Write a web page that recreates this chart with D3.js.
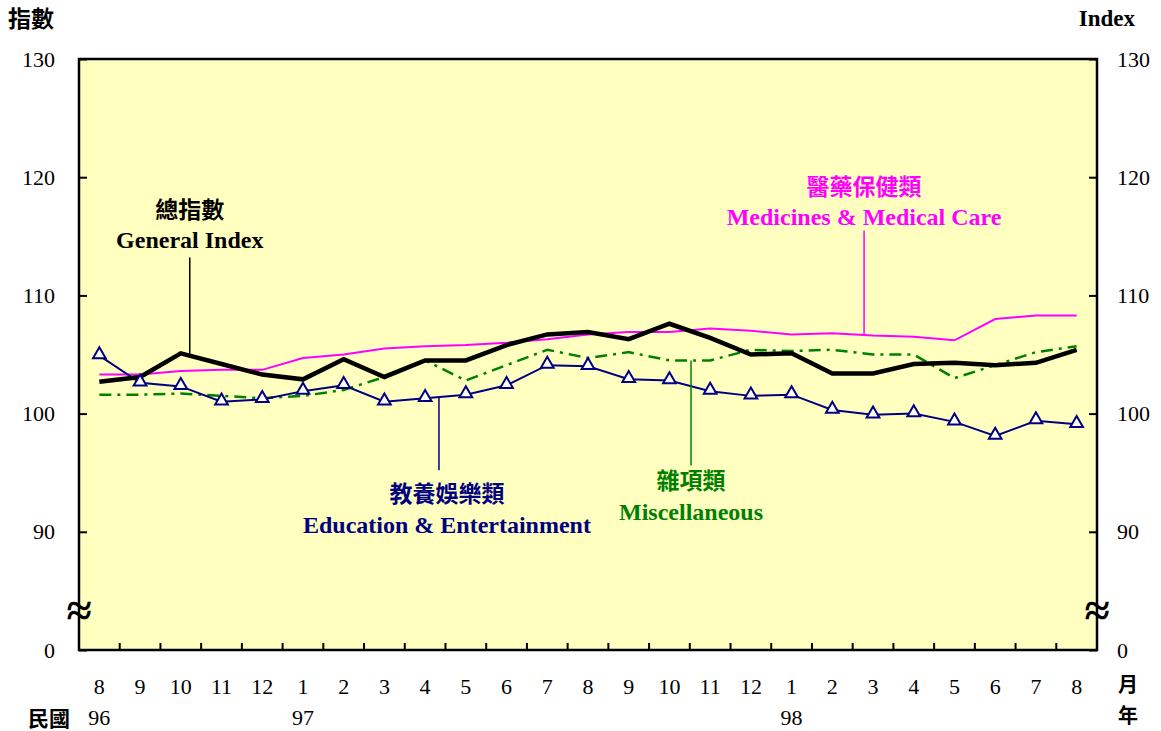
<!DOCTYPE html>
<html>
<head>
<meta charset="utf-8">
<script src="https://cdn.jsdelivr.net/npm/d3@7"></script>
<style>
  body { margin: 0; background: #fff; }
  svg text { font-family: "Liberation Serif", "Times New Roman", serif; }
  .cjk { font-family: "Noto Sans CJK TC", sans-serif !important; font-weight: bold; }
</style>
</head>
<body>
<svg id="chart"></svg>
<script>
// months on the x axis (Aug 96 .. Aug 98)
var months = [8, 9, 10, 11, 12, 1, 2, 3, 4, 5, 6, 7, 8, 9, 10, 11, 12, 1, 2, 3, 4, 5, 6, 7, 8];
var years = [{i: 0, label: "96"}, {i: 5, label: "97"}, {i: 17, label: "98"}];
var yTicks = [80, 90, 100, 110, 120, 130];

// series values
var general = [102.7, 103.1, 105.1, 104.2, 103.3, 102.9, 104.6, 103.1, 104.5, 104.5, 105.8, 106.7, 106.9, 106.3, 107.6,
               106.4, 105.0, 105.1, 103.4, 103.4, 104.2, 104.3, 104.1, 104.3, 105.4];
var medicines = [103.3, 103.3, 103.6, 103.7, 103.7, 104.7, 105.0, 105.5, 105.7, 105.8, 106.0, 106.3, 106.7, 106.9, 106.9,
                 107.2, 107.0, 106.7, 106.8, 106.6, 106.5, 106.2, 108.0, 108.3, 108.3];
var education = [104.9, 102.6, 102.3, 101.0, 101.2, 101.9, 102.4, 101.0, 101.3, 101.6, 102.4, 104.1, 104.0, 102.9, 102.8,
                 101.9, 101.5, 101.6, 100.3, 99.9, 100.0, 99.3, 98.1, 99.4, 99.1];
var misc = [101.6, 101.6, 101.7, 101.5, 101.3, 101.5, 102.0, 103.1, 104.5, 102.8, 104.1, 105.4, 104.7, 105.2, 104.5,
            104.5, 105.4, 105.3, 105.4, 105.0, 105.0, 103.0, 104.1, 105.2, 105.7];

var Chart = (function(){
    var width = 1161, height = 731;
    var left = 79, right = 1097, top = 59, bottom = 650;
    var svg, x, y;

    function xc(f){ return left + x.bandwidth() * (f + 0.5); }

    function init(){
        svg = d3.select("#chart").attr("width", width).attr("height", height);
        x = d3.scaleBand().domain(d3.range(months.length)).range([left, right]).padding(0);
        y = d3.scaleLinear().domain([80, 130]).range([bottom, top]);

        svg.append("rect")
            .attr("x", left).attr("y", top)
            .attr("width", right - left).attr("height", bottom - top)
            .attr("fill", "#FFFFC0");

        drawAxes();
        drawSeries();
        drawNotes();

        svg.append("rect")
            .attr("x", left).attr("y", top)
            .attr("width", right - left).attr("height", bottom - top)
            .attr("fill", "none").attr("stroke", "#000").attr("stroke-width", 2.5);

        drawBreaks();
    }

    function drawAxes(){
        var fmt = d => d === 80 ? "0" : d;
        var gl = svg.append("g").attr("transform", "translate(" + left + ",0)")
            .call(d3.axisLeft(y).tickValues(yTicks).tickSizeInner(-8).tickSizeOuter(0).tickPadding(24).tickFormat(fmt));
        var gr = svg.append("g").attr("transform", "translate(" + right + ",0)")
            .call(d3.axisRight(y).tickValues(yTicks).tickSizeInner(-8).tickSizeOuter(0).tickPadding(20).tickFormat(fmt));
        [gl, gr].forEach(function(g){
            g.select(".domain").remove();
            g.selectAll("line").attr("stroke-width", 2);
            g.selectAll("text").attr("font-size", 22).attr("fill", "#000")
                .style("font-family", "Liberation Serif");
        });

        // ticks between months
        svg.append("g").selectAll("line")
            .data(d3.range(1, months.length))
            .join("line")
            .attr("x1", d => x(d)).attr("x2", d => x(d))
            .attr("y1", bottom).attr("y2", bottom - 7)
            .attr("stroke", "#000").attr("stroke-width", 2);

        var gx = svg.append("g").attr("transform", "translate(0," + bottom + ")")
            .call(d3.axisBottom(x).tickSize(0).tickPadding(28).tickFormat(i => months[i]));
        gx.select(".domain").remove();
        gx.selectAll("text").attr("font-size", 22).attr("fill", "#000")
            .style("font-family", "Liberation Serif");

        svg.append("g").selectAll("text")
            .data(years)
            .join("text")
            .attr("x", d => xc(d.i)).attr("y", 725)
            .attr("text-anchor", "middle").attr("font-size", 22)
            .text(d => d.label);

        svg.append("text").attr("class", "cjk").attr("x", 28).attr("y", 726)
            .attr("font-size", 21).text("民國");
        svg.append("text").attr("class", "cjk").attr("x", 1128).attr("y", 692)
            .attr("text-anchor", "middle").attr("font-size", 20).text("月");
        svg.append("text").attr("class", "cjk").attr("x", 1128).attr("y", 723)
            .attr("text-anchor", "middle").attr("font-size", 20).text("年");

        svg.append("text").attr("class", "cjk").attr("x", 8).attr("y", 27)
            .attr("font-size", 23).text("指數");
        svg.append("text").attr("x", 1135).attr("y", 26)
            .attr("text-anchor", "end").attr("font-size", 23).attr("font-weight", "bold").text("Index");
    }

    function drawSeries(){
        var line = d3.line().x((d, i) => xc(i)).y(d => y(d));

        svg.append("path").datum(medicines).attr("d", line)
            .attr("fill", "none").attr("stroke", "#FF00FF").attr("stroke-width", 2);
        svg.append("path").datum(misc).attr("d", line)
            .attr("fill", "none").attr("stroke", "#008000").attr("stroke-width", 2.5)
            .attr("stroke-dasharray", "12,6,3,6");
        svg.append("path").datum(education).attr("d", line)
            .attr("fill", "none").attr("stroke", "#000080").attr("stroke-width", 2);
        svg.append("path").datum(general).attr("d", line)
            .attr("fill", "none").attr("stroke", "#000").attr("stroke-width", 4.5);

        var tri = d3.symbol().type(d3.symbolTriangle).size(70);
        svg.append("g").selectAll("path")
            .data(education)
            .join("path")
            .attr("d", tri)
            .attr("transform", (d, i) => "translate(" + xc(i) + "," + (y(d) - 1) + ")")
            .attr("fill", "#fff").attr("stroke", "#000080").attr("stroke-width", 2);
    }

    function drawNotes(){
        // fractional month index, leader-line value range, label baselines
        var notes = [
            {zh: "總指數", en: "General Index", color: "#000", f: 2.22, v0: 113.2, v1: 105.0, zy: 218, ey: 248},
            {zh: "醫藥保健類", en: "Medicines & Medical Care", color: "#FF00FF", f: 18.78, v0: 115.5, v1: 106.65, zy: 195, ey: 225},
            {zh: "教養娛樂類", en: "Education & Entertainment", color: "#000080", f: 8.34, v0: 101.4, v1: 95.2, zy: 502, ey: 533, dx: 8},
            {zh: "雜項類", en: "Miscellaneous", color: "#008000", f: 14.53, v0: 104.5, v1: 95.6, zy: 489, ey: 520}
        ];
        var g = svg.append("g").selectAll("g").data(notes).join("g");
        g.append("line")
            .attr("x1", d => xc(d.f)).attr("x2", d => xc(d.f))
            .attr("y1", d => y(d.v0)).attr("y2", d => y(d.v1))
            .attr("stroke", d => d.color).attr("stroke-width", 1.5);
        g.append("text").attr("class", "cjk")
            .attr("x", d => xc(d.f) + (d.dx || 0)).attr("y", d => d.zy)
            .attr("text-anchor", "middle").attr("font-size", 23)
            .attr("fill", d => d.color).text(d => d.zh);
        g.append("text")
            .attr("x", d => xc(d.f) + (d.dx || 0)).attr("y", d => d.ey)
            .attr("text-anchor", "middle").attr("font-size", 24).attr("font-weight", "bold")
            .attr("fill", d => d.color).text(d => d.en);
    }

    function drawBreaks(){
        [left, right].forEach(function(px){
            svg.append("text")
                .attr("x", px).attr("y", 626)
                .attr("text-anchor", "middle").attr("font-size", 46).attr("font-weight", "bold")
                .text("≈");
        });
    }

    return { init: init };
})();

Chart.init();
</script>
</body>
</html>
